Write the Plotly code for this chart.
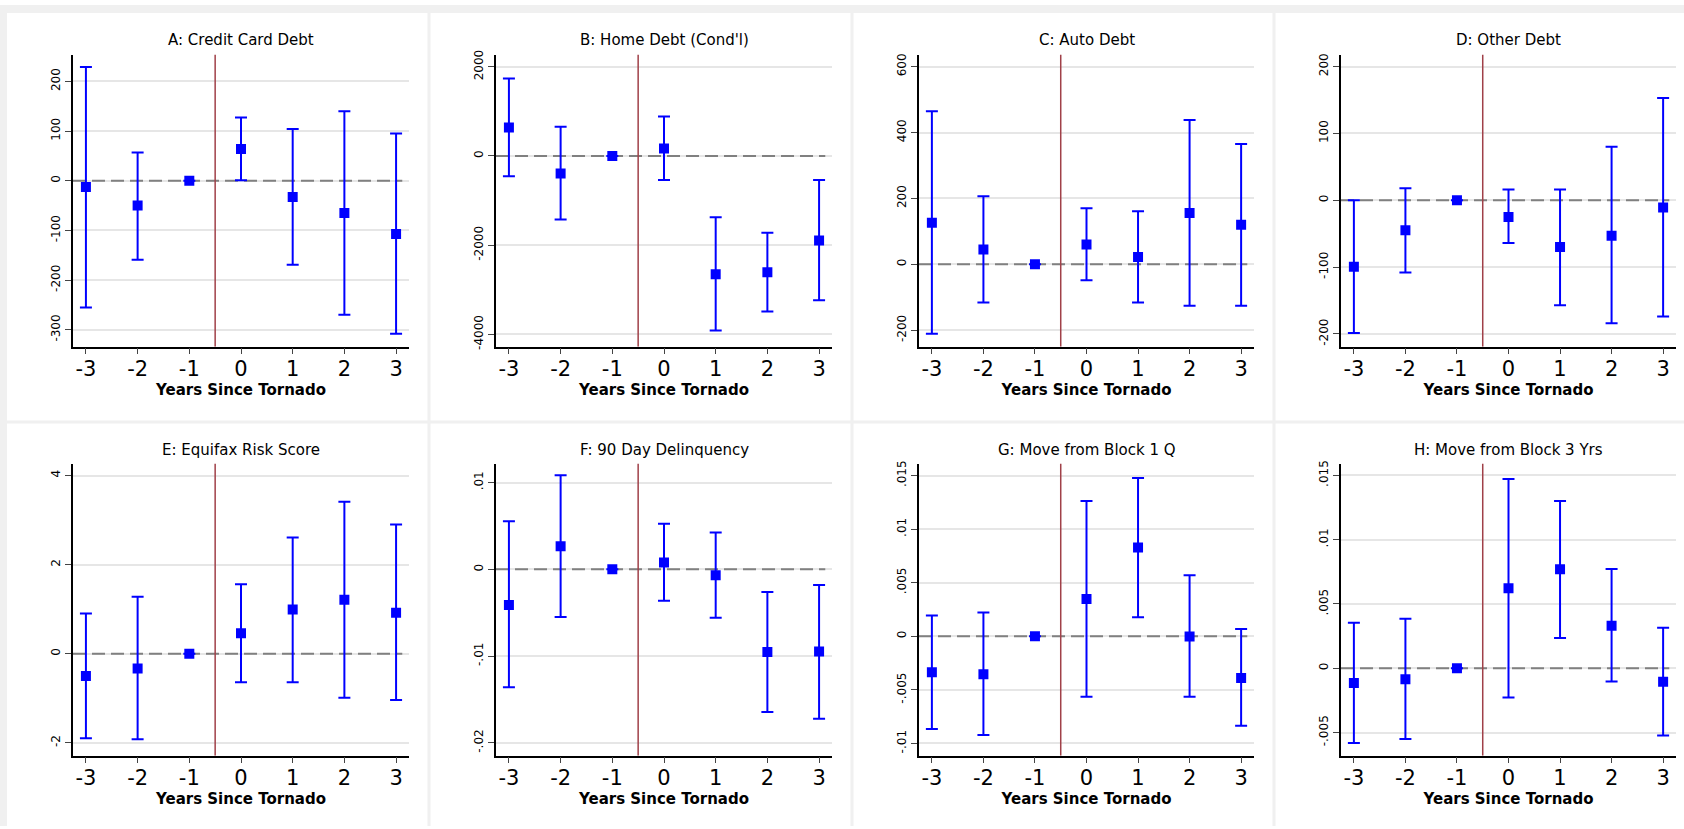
import plotly.graph_objects as go

years = [-3, -2, -1, 0, 1, 2, 3]
x_ticks = [-3, -2, -1, 0, 1, 2, 3]
x_label = "Years Since Tornado"
x_range = [-3.25, 3.25]
event_x = -0.5

titles = ["A: Credit Card Debt", "B: Home Debt (Cond'l)", "C: Auto Debt", "D: Other Debt",
          "E: Equifax Risk Score", "F: 90 Day Delinquency", "G: Move from Block 1 Q", "H: Move from Block 3 Yrs"]

# Panel A
a_est = [-12.6, -50, 0, 64, -33, -65, -107]
a_lo = [-255, -159, 0, 1, -169, -270, -308]
a_hi = [229, 57, 0, 127, 104, 140, 95]
# Panel B
b_est = [636, -392, 0, 170, -2653, -2609, -1899]
b_lo = [-458, -1426, 0, -540, -3917, -3488, -3237]
b_hi = [1737, 658, 0, 887, -1375, -1722, -540]
# Panel C
c_est = [126, 45, 0, 60, 22, 156, 120]
c_lo = [-211, -116, 0, -48, -116, -126, -126]
c_hi = [465, 207, 0, 170, 161, 438, 365]
# Panel D
d_est = [-99.5, -45, 0, -25, -70, -53, -11]
d_lo = [-198.5, -108, 0, -64, -157, -184, -174]
d_hi = [0, 18, 0, 16, 16, 80, 153]
# Panel E
e_est = [-0.50, -0.33, 0, 0.46, 0.99, 1.21, 0.92]
e_lo = [-1.90, -1.92, 0, -0.64, -0.64, -0.99, -1.04]
e_hi = [0.90, 1.28, 0, 1.56, 2.61, 3.41, 2.90]
# Panel F
f_est = [-0.0041, 0.00266, 0, 0.0008, -0.00068, -0.00954, -0.00947]
f_lo = [-0.0136, -0.00548, 0, -0.00361, -0.00559, -0.01643, -0.01722]
f_hi = [0.00555, 0.01084, 0, 0.00525, 0.00426, -0.00262, -0.00179]
# Panel G
g_est = [-0.00335, -0.00354, 0, 0.00348, 0.00828, -0.00003, -0.0039]
g_lo = [-0.00865, -0.0092, 0, -0.00563, 0.00178, -0.00563, -0.00834]
g_hi = [0.00194, 0.00222, 0, 0.01262, 0.01477, 0.00569, 0.00068]
# Panel H
h_est = [-0.00115, -0.00085, 0, 0.00623, 0.00769, 0.00331, -0.00105]
h_lo = [-0.00582, -0.00551, 0, -0.00228, 0.00236, -0.00103, -0.00523]
h_hi = [0.00354, 0.00385, 0, 0.01472, 0.013, 0.00772, 0.00315]

y_tickvals = [
    [-300, -200, -100, 0, 100, 200],
    [-4000, -2000, 0, 2000],
    [-200, 0, 200, 400, 600],
    [-200, -100, 0, 100, 200],
    [-2, 0, 2, 4],
    [-0.02, -0.01, 0, 0.01],
    [-0.01, -0.005, 0, 0.005, 0.01, 0.015],
    [-0.005, 0, 0.005, 0.01, 0.015],
]
y_ticktext = [
    ["-300", "-200", "-100", "0", "100", "200"],
    ["-4000", "-2000", "0", "2000"],
    ["-200", "0", "200", "400", "600"],
    ["-200", "-100", "0", "100", "200"],
    ["-2", "0", "2", "4"],
    ["-.02", "-.01", "0", ".01"],
    ["-.01", "-.005", "0", ".005", ".01", ".015"],
    ["-.005", "0", ".005", ".01", ".015"],
]
y_ranges = [
    [-334, 254], [-4279, 2276], [-250, 637], [-219, 218],
    [-2.29, 4.27], [-0.02148, 0.0122], [-0.01114, 0.01612], [-0.0068, 0.01592],
]

ests = [a_est, b_est, c_est, d_est, e_est, f_est, g_est, h_est]
los = [a_lo, b_lo, c_lo, d_lo, e_lo, f_lo, g_lo, h_lo]
his = [a_hi, b_hi, c_hi, d_hi, e_hi, f_hi, g_hi, h_hi]

W, H = 1684, 829
col_px = [(73, 409), (496, 832), (919, 1254), (1341, 1676)]
row_px = [(50, 345), (463, 758)]
title_y_px = [35, 449]

FONT = "DejaVu Sans"
BLUE = "#0000ff"
EVENT = "#a04048"

fig = go.Figure()
layout = dict(
    width=W, height=H, margin=dict(l=0, r=0, t=0, b=0),
    paper_bgcolor="white", plot_bgcolor="white", showlegend=False,
    font=dict(family=FONT, color="black"),
)
shapes = []
annotations = []

for i in range(8):
    r, c = divmod(i, 4)
    k = i + 1
    xa = "x" if k == 1 else f"x{k}"
    ya = "y" if k == 1 else f"y{k}"
    x0, x1 = col_px[c]
    top, bot = row_px[r]
    est, lo, hi = ests[i], los[i], his[i]
    # zero reference line (dashed) and event line, drawn beneath the estimates
    fig.add_trace(go.Scatter(
        x=[x_range[0], x_range[0] + 0.98 * (x_range[1] - x_range[0])], y=[0, 0],
        mode="lines", xaxis=xa, yaxis=ya, hoverinfo="skip",
        line=dict(color="#808080", width=2, dash="13px,6px")))
    fig.add_trace(go.Scatter(
        x=[event_x, event_x], y=y_ranges[i], mode="lines", xaxis=xa, yaxis=ya, hoverinfo="skip",
        line=dict(color=EVENT, width=1.5)))
    fig.add_trace(go.Scatter(
        x=years, y=est, mode="markers", xaxis=xa, yaxis=ya,
        marker=dict(symbol="square", size=10, color=BLUE),
        error_y=dict(type="data", symmetric=False,
                     array=[h - e for h, e in zip(hi, est)],
                     arrayminus=[e - l for e, l in zip(est, lo)],
                     color=BLUE, thickness=2, width=6),
    ))
    layout["xaxis" if k == 1 else f"xaxis{k}"] = dict(
        domain=[x0 / W, x1 / W], anchor=ya, range=x_range,
        tickvals=x_ticks, ticktext=[str(t) for t in x_ticks],
        tickfont=dict(size=21, family=FONT), ticks="outside", ticklen=6, tickwidth=1.2,
        ticklabelstandoff=-4,
        showline=True, linecolor="black", linewidth=1.5, showgrid=False, zeroline=False,
        title=dict(text="<b>" + x_label + "</b>", font=dict(size=15, family=FONT), standoff=0),
    )
    layout["yaxis" if k == 1 else f"yaxis{k}"] = dict(
        domain=[1 - bot / H, 1 - top / H], anchor=xa, range=y_ranges[i],
        tickvals=y_tickvals[i], ticktext=y_ticktext[i], tickangle=-90,
        tickfont=dict(size=12, family=FONT), ticks="outside", ticklen=6, tickwidth=1.2,
        showline=True, linecolor="black", linewidth=1.5,
        showgrid=True, gridcolor="#e6e6e6", gridwidth=1.5, zeroline=False,
    )
    annotations.append(dict(text=titles[i], xref="paper", yref="paper",
                            x=(x0 + x1) / 2 / W, y=1 - title_y_px[r] / H,
                            showarrow=False, xanchor="center", yanchor="middle",
                            font=dict(size=15, family=FONT, color="black")))

# panel gutters
GUT = "#f0f0f0"
for gx in [429, 852, 1274]:
    shapes.append(dict(type="rect", xref="paper", yref="paper", x0=(gx - 1.5) / W, x1=(gx + 1.5) / W,
                       y0=0, y1=1, fillcolor=GUT, line=dict(width=0), layer="below"))
shapes.append(dict(type="rect", xref="paper", yref="paper", x0=0, x1=1,
                   y0=1 - 422.5 / H, y1=1 - 419.5 / H, fillcolor=GUT, line=dict(width=0), layer="below"))
shapes.append(dict(type="rect", xref="paper", yref="paper", x0=0, x1=1,
                   y0=1 - 8 / H, y1=1, fillcolor=GUT, line=dict(width=0), layer="below"))
shapes.append(dict(type="rect", xref="paper", yref="paper", x0=0, x1=7 / W,
                   y0=0, y1=1, fillcolor=GUT, line=dict(width=0), layer="below"))

layout["shapes"] = shapes
layout["annotations"] = annotations
fig.update_layout(**layout)
fig.write_html("out.html", config={"displayModeBar": False},
               post_script="document.body.style.margin='0';document.body.style.overflow='hidden';")
